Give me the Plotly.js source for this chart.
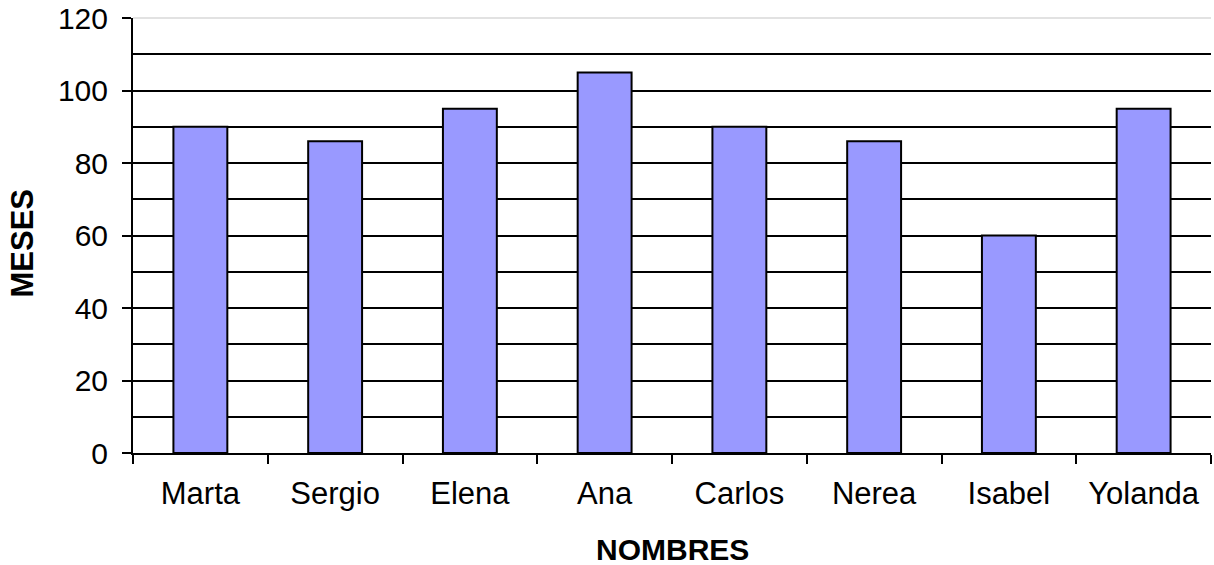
<!DOCTYPE html>
<html>
<head>
<meta charset="utf-8">
<script src="https://cdn.plot.ly/plotly-3.0.1.min.js"></script>
<style>html,body{margin:0;padding:0;background:#fff;}#chart{width:1214px;height:565px;}</style>
</head>
<body>
<div id="chart"></div>
<script>
const nombres = ["Marta", "Sergio", "Elena", "Ana", "Carlos", "Nerea", "Isabel", "Yolanda"];
const meses = [90, 86, 95, 105, 90, 86, 60, 95];
const yTickVals = [0, 20, 40, 60, 80, 100, 120];
const yGridVals = [10, 20, 30, 40, 50, 60, 70, 80, 90, 100, 110];
const xTitle = "NOMBRES";
const yTitle = "MESES";

const trace = {
  type: "bar",
  x: nombres,
  y: meses,
  marker: { color: "#9999FF", line: { color: "#000000", width: 2 } },
  hoverinfo: "x+y"
};

const layout = {
  width: 1214,
  height: 565,
  margin: { l: 133, r: 3, t: 18, b: 112 },
  paper_bgcolor: "#ffffff",
  plot_bgcolor: "#ffffff",
  bargap: 0.6,
  showlegend: false,
  font: { family: "Liberation Sans, Arial, sans-serif", color: "#000000" },
  xaxis: {
    type: "category",
    tickson: "boundaries",
    ticks: "outside",
    ticklen: 9,
    tickwidth: 2,
    tickcolor: "#000000",
    showline: true,
    linecolor: "#000000",
    linewidth: 2,
    showgrid: false,
    ticklabelstandoff: 12,
    tickfont: { size: 31, color: "#000000" }
  },
  yaxis: {
    range: [0, 120],
    tickmode: "array",
    tickvals: yTickVals,
    ticktext: yTickVals.map(String),
    ticks: "outside",
    ticklen: 9,
    tickwidth: 2,
    tickcolor: "#000000",
    showline: true,
    linecolor: "#000000",
    linewidth: 2,
    showgrid: false,
    zeroline: false,
    ticklabelstandoff: 8,
    tickfont: { size: 30, color: "#000000" },
    minor: {
      tickmode: "array",
      tickvals: yGridVals,
      showgrid: true,
      gridcolor: "#000000",
      gridwidth: 2,
      ticks: ""
    }
  },
  annotations: [
    { text: xTitle, xref: "paper", yref: "paper", x: 0.5, y: 0, xanchor: "center", yanchor: "middle",
      yshift: -96, showarrow: false, font: { size: 30, color: "#000000", weight: "bold" } },
    { text: yTitle, xref: "paper", yref: "paper", x: 0, y: 0.5, xanchor: "center", yanchor: "middle",
      xshift: -111, yshift: -8, textangle: -90, showarrow: false,
      font: { size: 31, color: "#000000", weight: "bold" } }
  ],
  shapes: [
    { type: "line", xref: "paper", yref: "paper", x0: 0, x1: 1, y0: 1, y1: 1,
      line: { color: "#d9d9d9", width: 1.5 }, layer: "above" }
  ]
};

Plotly.newPlot("chart", [trace], layout, { displayModeBar: false, staticPlot: true });
</script>
</body>
</html>
